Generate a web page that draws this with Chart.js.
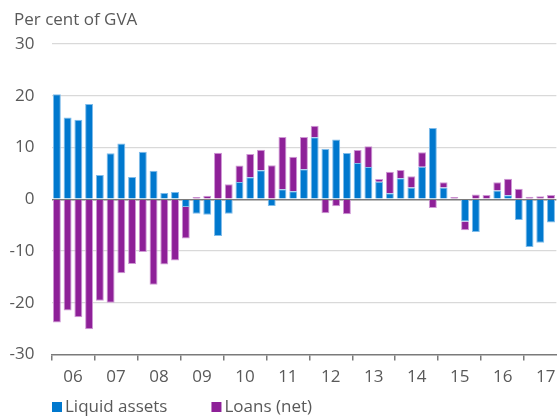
<!DOCTYPE html>
<html>
<head>
<meta charset="utf-8">
<script src="https://cdn.jsdelivr.net/npm/chart.js@4/dist/chart.umd.min.js"></script>
<style>
  html, body { margin: 0; padding: 0; background: #fff; }
  #wrap { width: 557px; height: 417px; position: relative; }
</style>
</head>
<body>
<div id="wrap"><canvas id="c" width="557" height="417"></canvas></div>
<script>
// Quarterly data, 2006 Q1 to 2017 Q3
const years = ['06','07','08','09','10','11','12','13','14','15','16','17'];
const quarters = [];
years.forEach(y => { for (let q = 1; q <= 4; q++) quarters.push(y + ' Q' + q); });
const categories = quarters.slice(0, 47);

const liquidAssets = [
  20.3, 15.8, 15.35, 18.4,
  4.7, 8.9, 10.8, 4.3,
  9.2, 5.5, 1.2, 1.4,
  -1.5, -2.8, -3.0, -7.1,
  -2.8, 3.35, 4.25, 5.6,
  -1.3, 1.95, 1.55, 5.8,
  12.0, 9.7, 11.55, 8.95,
  7.0, 6.25, 3.4, 1.15,
  4.05, 2.3, 6.3, 13.75,
  2.3, 0.0, -4.3, -6.3,
  0.0, 1.7, 0.8, -4.0,
  -9.2, -8.4, -4.5
];
const loansNet = [
  -23.8, -21.5, -22.8, -25.1,
  -19.6, -20.0, -14.3, -12.5,
  -10.2, -16.5, -12.6, -11.8,
  -6.05, 0.45, 0.7, 9.0,
  2.9, 3.2, 4.5, 3.95,
  6.6, 10.1, 6.65, 6.25,
  2.2, -2.7, -1.35, -2.9,
  2.5, 4.0, 0.5, 4.15,
  1.6, 2.15, 2.8, -1.7,
  1.0, 0.45, -1.7, 0.95,
  0.85, 1.6, 3.15, 2.05,
  0.5, 0.6, 0.85
];
const yTicks = [-30, -20, -10, 0, 10, 20, 30];
const unitTitle = 'Per cent of GVA';

const FONT = 'Open Sans';
const TXT = '#595959';
const FS = 17;

// Unit title at top-left and legend (from the chart's own datasets) under the axis
const annotations = {
  id: 'annotations',
  afterDraw(chart) {
    const ctx = chart.ctx;
    ctx.save();
    ctx.font = FS + 'px "' + FONT + '"';
    ctx.textBaseline = 'middle';
    ctx.textAlign = 'left';
    ctx.fillStyle = TXT;
    ctx.fillText(unitTitle, 14, 20);
    let x = 52;
    const y = 407;
    chart.data.datasets.forEach(ds => {
      ctx.fillStyle = ds.backgroundColor;
      ctx.fillRect(x, y - 5, 10, 10);
      x += 13;
      ctx.fillStyle = TXT;
      ctx.fillText(ds.label, x, y);
      x += ctx.measureText(ds.label).width + 44;
    });
    ctx.restore();
  }
};

new Chart(document.getElementById('c'), {
  type: 'bar',
  data: {
    labels: categories,
    datasets: [
      { label: 'Liquid assets', data: liquidAssets, backgroundColor: '#0078CE', borderColor: '#7fbcea', borderWidth: 1 },
      { label: 'Loans (net)', data: loansNet, backgroundColor: '#8E2098', borderColor: '#cf98d5', borderWidth: 1 }
    ]
  },
  plugins: [annotations],
  options: {
    responsive: false,
    animation: false,
    layout: { padding: { left: 0, right: -2, top: 44, bottom: 24 } },
    datasets: { bar: { categoryPercentage: 1.0, barPercentage: 0.74 } },
    plugins: {
      title: { display: false },
      legend: { display: false },
      tooltip: { enabled: false }
    },
    scales: {
      x: {
        stacked: true,
        offset: true,
        border: { display: true, color: '#7a7a7a', width: 1.5 },
        grid: {
          offset: true, drawOnChartArea: false, drawTicks: true, tickLength: 6,
          color: ctx => (ctx.index % 4 === 0 ? '#7a7a7a' : 'rgba(0,0,0,0)'),
          lineWidth: 1.5
        },
        ticks: {
          autoSkip: false, maxRotation: 0, minRotation: 0, color: TXT,
          font: { family: FONT, size: FS }, padding: 6,
          labelOffset: 5.4,
          callback: (v, i) => (i % 4 === 1 ? years[Math.floor(i / 4)] : '')
        }
      },
      y: {
        stacked: true,
        min: -30, max: 30,
        afterBuildTicks: axis => { axis.ticks = yTicks.map(v => ({ value: v })); },
        afterFit: axis => { axis.width = 51.5; },
        border: { display: false },
        grid: {
          drawTicks: false,
          color: ctx => (ctx.tick.value === 0 ? '#7a7a7a' : (ctx.tick.value === -30 ? 'rgba(0,0,0,0)' : '#d9d9d9')),
          lineWidth: ctx => (ctx.tick.value === 0 ? 1.5 : 1.2)
        },
        ticks: { color: TXT, font: { family: FONT, size: FS }, padding: 17 }
      }
    }
  }
});
</script>
</body>
</html>
